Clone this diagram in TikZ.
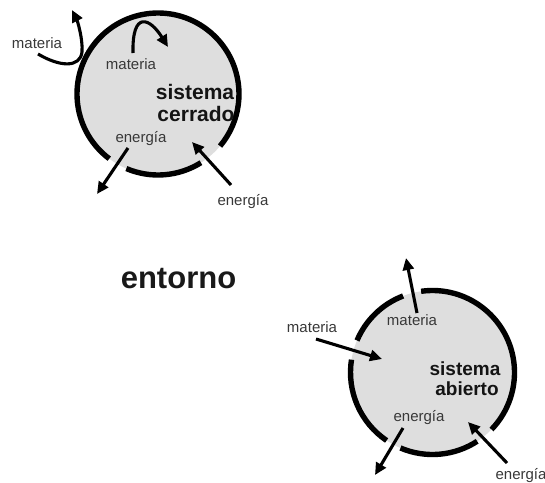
\documentclass[tikz,border=0pt]{standalone}
\usepackage{fontspec}
\setmainfont{Liberation Sans}
\usetikzlibrary{arrows.meta, positioning}
\tikzset{
    system_circle/.style={circle, minimum size=#1, inner sep=0pt, fill=black!13},
    wall/.style={line width=5.4pt},
    arrow/.style={line width=3.1pt, -{Triangle[length=12pt, width=11pt]}},
    small_label/.style={font=\fontsize{15}{17}\selectfont, text=black!78, inner sep=0pt, anchor=base},
    system_name/.style={font=\bfseries\fontsize{#1}{#1}\selectfont, text=black!92, inner sep=0pt, anchor=base},
    surround_name/.style={font=\bfseries\fontsize{31}{33}\selectfont, text=black!90, inner sep=0pt, anchor=base},
}

\begin{document}
\begin{tikzpicture}[x=1pt, y=-1pt]
            \useasboundingbox (0,0) rectangle (545,482);
            %%%%%%%%%%%%%%%%%%%
            % SISTEMA CERRADO %
            %%%%%%%%%%%%%%%%%%%
            \node (closed_sys) [system_circle=162pt] at (158,94) {};
            \draw [wall] (closed_sys.center) ++(58:81) arc[start angle=58, end angle=113, radius=81];
            \draw [wall] (closed_sys.center) ++(127:81) arc[start angle=127, end angle=400, radius=81];

            \node (closed_title_1) [system_name=21] at (195,99) {sistema};
            \node (closed_title_2) [system_name=21] at (196,121) {cerrado};

            \node (closed_mat_out) [small_label] at (37,48) {materia};
            \node (closed_mat_in) [small_label] at (131,69) {materia};
            \node (closed_en_in) [small_label] at (141,142) {energía};
            \node (closed_en_out) [small_label] at (243,205) {energía};

            \coordinate (closed_mat_out_start) at (38,54);
            \coordinate (closed_mat_out_end) at (72,10);
            \coordinate (closed_mat_in_start) at (133,53);
            \coordinate (closed_mat_in_end) at (168,47);
            \coordinate (closed_en_in_start) at (128,148);
            \coordinate (closed_en_in_end) at (97,194);
            \coordinate (closed_en_out_start) at (231,185);
            \coordinate (closed_en_out_end) at (192,142);

            \draw [arrow] (closed_mat_out_start) .. controls (60,67) and (80,68) .. (82,52)
                    .. controls (83,38) and (77,20) .. (closed_mat_out_end);
            \draw [arrow] (closed_mat_in_start) .. controls (132,10) and (150,18) .. (closed_mat_in_end);
            \draw [arrow] (closed_en_in_start) -- (closed_en_in_end);
            \draw [arrow] (closed_en_out_start) -- (closed_en_out_end);

            %%%%%%%%%%%
            % ENTORNO %
            %%%%%%%%%%%
            \node (surround) [surround_name] at (178.5,288) {entorno};

            %%%%%%%%%%%%%%%%%%%
            % SISTEMA ABIERTO %
            %%%%%%%%%%%%%%%%%%%
            \node (open_sys) [system_circle=164pt] at (432.5,372.5) {};
            \draw [wall] (open_sys.center) ++(57:82) arc[start angle=57, end angle=113, radius=82];
            \draw [wall] (open_sys.center) ++(124:82) arc[start angle=124, end angle=189, radius=82];
            \draw [wall] (open_sys.center) ++(203:82) arc[start angle=203, end angle=249, radius=82];
            \draw [wall] (open_sys.center) ++(262:82) arc[start angle=262, end angle=404, radius=82];

            \node (open_title_1) [system_name=19] at (465,375) {sistema};
            \node (open_title_2) [system_name=19] at (467,395) {abierto};

            \node (open_mat_out) [small_label] at (312,332) {materia};
            \node (open_mat_in) [small_label] at (412,325) {materia};
            \node (open_en_in) [small_label] at (419,421) {energía};
            \node (open_en_out) [small_label] at (521,479) {energía};

            \coordinate (open_mat_out_start) at (316,339);
            \coordinate (open_mat_out_end) at (382,359);
            \coordinate (open_mat_in_start) at (417,313);
            \coordinate (open_mat_in_end) at (406,258);
            \coordinate (open_en_in_start) at (403,428);
            \coordinate (open_en_in_end) at (375,475);
            \coordinate (open_en_out_start) at (507,463);
            \coordinate (open_en_out_end) at (468,422);

            \draw [arrow] (open_mat_out_start) -- (open_mat_out_end);
            \draw [arrow] (open_mat_in_start) -- (open_mat_in_end);
            \draw [arrow] (open_en_in_start) -- (open_en_in_end);
            \draw [arrow] (open_en_out_start) -- (open_en_out_end);
\end{tikzpicture}
\end{document}
